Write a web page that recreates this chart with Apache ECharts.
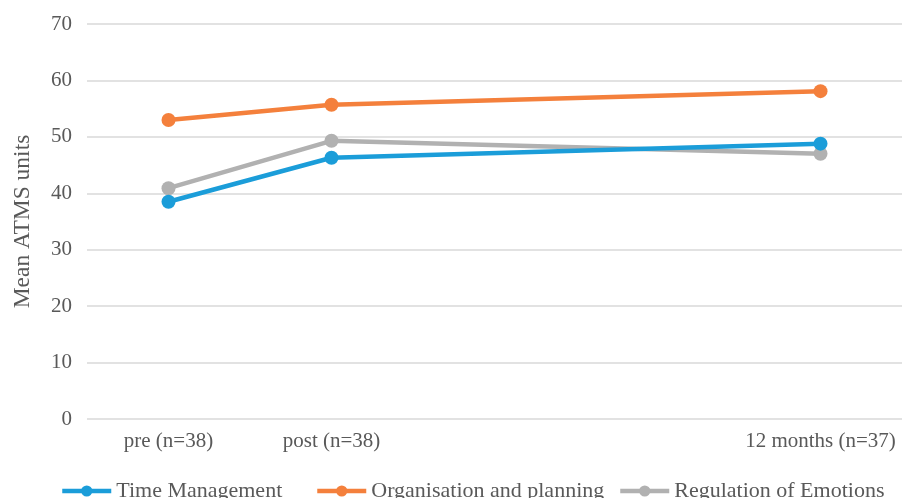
<!DOCTYPE html>
<html>
<head>
<meta charset="utf-8">
<script src="https://cdn.jsdelivr.net/npm/echarts@6/dist/echarts.min.js"></script>
<style>
	html, body { margin: 0; padding: 0; background: #fff; }
	#chart { width: 902px; height: 498px; }
</style>
</head>
<body>
<div id="chart"></div>
<script>
var timeLabels = ['pre (n=38)', 'post (n=38)', '12 months (n=37)'];
var timeMonths = [0, 3, 12];
var timeManagement = [38.5, 46.3, 48.8];
var organisationPlanning = [53.0, 55.7, 58.1];
var regulationEmotions = [40.9, 49.3, 47.0];
var seriesNames = ['Time Management', 'Organisation and planning', 'Regulation of Emotions'];
var yTicks = [0, 10, 20, 30, 40, 50, 60, 70];

(function(){
	var font = '"Liberation Serif", "Times New Roman", serif',
		textColor = '#595959',
		colors = ['#1b9dd9', '#f4803c', '#b1b1b1'],
		legendLeft = [55, 310, 613],
		values = [timeManagement, organisationPlanning, regulationEmotions];

	function pairs(vals){
		var out = [];
		for(var i = 0; i < vals.length; i++){
			out.push([timeMonths[i], vals[i]]);
		}
		return out;
	}

	var series = [], legends = [];
	for(var s = 0; s < seriesNames.length; s++){
		series.push({
			name: seriesNames[s],
			type: 'line',
			data: pairs(values[s]),
			symbol: 'circle',
			symbolSize: 14,
			lineStyle: { width: 4.5, color: colors[s] },
			itemStyle: { color: colors[s] },
			z: s == 0 ? 4 : 3
		});
		// one legend per item so each sits where the original has it
		legends.push({
			data: [seriesNames[s]],
			left: legendLeft[s],
			top: 475,
			itemWidth: 49,
			itemHeight: 14,
			lineStyle: { width: 4.5 },
			textStyle: { fontFamily: font, fontSize: 22, color: textColor }
		});
	}

	var chart = echarts.init(document.getElementById('chart'));
	chart.setOption({
		animation: false,
		grid: { left: 87, right: -6, top: 24, bottom: 79 },
		legend: legends,
		xAxis: {
			type: 'value',
			min: -1.5,
			max: 13.5,
			axisLine: { show: false },
			axisTick: { show: false },
			splitLine: { show: false },
			axisLabel: {
				customValues: timeMonths,
				margin: 12,
				fontFamily: font,
				fontSize: 21,
				color: textColor,
				formatter: function(v){
					var idx = timeMonths.indexOf(v);
					return idx >= 0 ? timeLabels[idx] : '';
				}
			}
		},
		yAxis: {
			type: 'value',
			min: yTicks[0],
			max: yTicks[yTicks.length - 1],
			interval: 10,
			name: 'Mean ATMS units',
			nameLocation: 'middle',
			nameGap: 52,
			nameTextStyle: { fontFamily: font, fontSize: 23.5, color: textColor },
			axisLine: { show: false },
			axisTick: { show: false },
			axisLabel: { margin: 15, fontFamily: font, fontSize: 21, color: textColor },
			splitLine: { lineStyle: { color: '#d9d9d9', width: 1.5 } }
		},
		series: series
	});
})();
</script>
</body>
</html>
